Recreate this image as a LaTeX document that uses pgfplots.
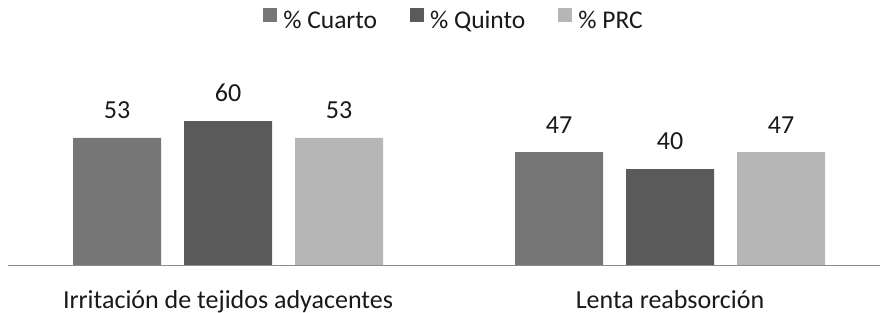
\documentclass[border=0pt]{standalone}
\usepackage{fontspec}
\setmainfont{Carlito}
\usepackage{pgfplots}
\pgfplotsset{compat=1.18}
\definecolor{cA}{RGB}{118,118,118}
\definecolor{cB}{RGB}{90,90,90}
\definecolor{cC}{RGB}{182,182,182}
\definecolor{axl}{RGB}{140,140,140}
\begin{document}
\begin{tikzpicture}
\useasboundingbox (0,0) rectangle (880bp,313bp);
\begin{axis}[
  at={(8bp,48bp)}, anchor=south west,
  scale only axis, width=872bp, height=220bp,
  xmin=-0.4977, xmax=1.475, ymin=0, ymax=91.67,
  ybar=23bp, bar width=88bp,
  axis x line*=bottom, axis y line=none,
  x axis line style={draw=axl, line width=0.8pt, -},
  xtick={0,1}, xticklabels={Irritación de tejidos adyacentes, Lenta reabsorción},
  major tick length=0pt,
  xticklabel style={font=\fontsize{26bp}{30bp}\selectfont, anchor=base, yshift=-43bp, text=black!90},
  /pgf/number format/assume math mode=true,
  nodes near coords,
  every node near coord/.append style={font=\fontsize{26bp}{30bp}\selectfont, anchor=south, inner sep=0pt, yshift=19bp, text=black!90},
  legend columns=3,
  legend style={draw=none, at={(0.5115,1.1136)}, anchor=center,
    font=\fontsize{25.5bp}{30bp}\selectfont, text=black!90,
    /tikz/every odd column/.append style={column sep=4bp},
    /tikz/every even column/.append style={column sep=31bp}},
  legend image code/.code={\fill[#1] (0bp,-2bp) rectangle (14bp,12bp);},
]
\addplot[fill=cA, draw=none] coordinates {(0,53) (1,47)};
\addplot[fill=cB, draw=none] coordinates {(0,60) (1,40)};
\addplot[fill=cC, draw=none] coordinates {(0,53) (1,47)};
\legend{\% Cuarto, \% Quinto, \% PRC}
\end{axis}
\end{tikzpicture}
\end{document}
